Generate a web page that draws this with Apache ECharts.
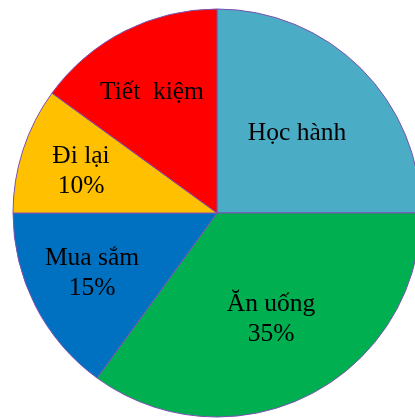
<!DOCTYPE html>
<html>
<head>
<meta charset="utf-8">
<script src="https://cdn.jsdelivr.net/npm/echarts@6/dist/echarts.min.js"></script>
<style>
  html, body { margin: 0; padding: 0; background: #fff; }
</style>
</head>
<body>
<div id="chart" style="width: 415px; height: 419px;"></div>
<script>
// dữ liệu (theo chiều kim đồng hồ, bắt đầu từ 12 giờ)
var categories = ['Học hành', 'Ăn uống', 'Mua sắm', 'Đi lại', 'Tiết  kiệm'];
var values = [25, 35, 15, 10, 15];
var showPercent = [false, true, true, true, false];

var colors = ['#4BACC6', '#00B050', '#0070C0', '#FFC000', '#FF0000'];
// vị trí nhãn (tâm chữ)
var labelPos = [[297, 133], [271, 319], [92, 273], [81, 171], [152, 92]];

var chart = echarts.init(document.getElementById('chart'));

var option = {
  animation: false,
  color: colors,
  series: [
    {
      type: 'pie',
      center: [217, 213],
      radius: 204,
      startAngle: 90,
      clockwise: true,
      data: categories.map(function (name, i) {
        return {name: name, value: values[i]};
      }),
      itemStyle: {
        borderColor: '#7a52b0',
        borderWidth: 1
      },
      label: {
        position: 'inside',
        fontFamily: '"Liberation Serif", "Times New Roman", serif',
        fontSize: 25.5,
        lineHeight: 30,
        color: '#000',
        formatter: function (p) {
          return showPercent[p.dataIndex] ? p.name + '\n' + p.value + '%' : p.name;
        }
      },
      labelLine: {show: false},
      labelLayout: function (p) {
        var pos = labelPos[p.dataIndex];
        return {x: pos[0], y: pos[1], align: 'center', verticalAlign: 'middle'};
      }
    }
  ]
};

chart.setOption(option);
</script>
</body>
</html>
